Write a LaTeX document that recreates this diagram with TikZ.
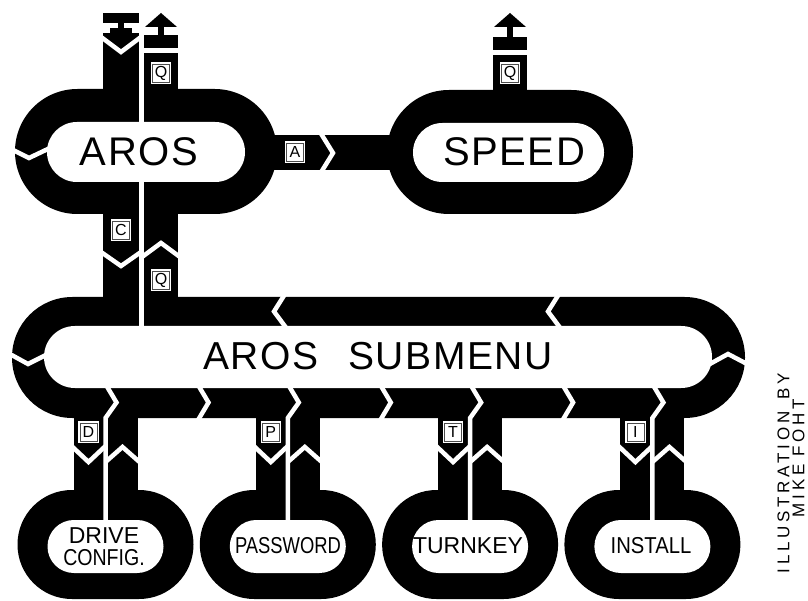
\documentclass[tikz,border=0pt]{standalone}
\usepackage{fontspec}
\usepackage{graphicx}
\setmainfont{Liberation Sans}
\newfontfamily\lblfont[LetterSpace=4]{Liberation Sans}
\newfontfamily\creditfont[LetterSpace=22]{Liberation Sans}
\begin{document}
\begin{tikzpicture}[x=1pt,y=-1pt]
\tikzset{
 cut/.style={draw=white, line width=4.5pt, line join=miter, miter limit=10},
 lbox/.style={rectangle, fill=white, draw=black!70, line width=0.5pt, minimum width=17pt, minimum height=18pt, inner sep=0pt, font=\fontsize{16}{16}\selectfont, preaction={draw=white, line width=3.5pt}},
 big/.style={font=\lblfont\fontsize{40}{40}\selectfont, inner sep=0pt},
 item/.style={font=\fontsize{23}{22}\selectfont, inner sep=0pt, align=center},
 credit/.style={rotate=90, inner sep=0pt, font=\creditfont\fontsize{17}{17}\selectfont},
}
\useasboundingbox (0,0) rectangle (808,601);
\fill[white] (0,0) rectangle (808,601);
% ---------- black shapes ----------
% AROS loop
\fill[rounded corners=62.4pt] (15,89) rectangle (277,214);
% SPEED loop
\fill[rounded corners=61.9pt] (387,90) rectangle (633,214);
% A band
\fill (265,135) rectangle (395,170);
% SUBMENU loop
\fill[rounded corners=60.4pt] (12,297) rectangle (745,418);
% top-left column with terminal symbol
\fill (103,13) rectangle (139,23);
\fill (118,22) rectangle (124,30);
\fill (110,28) rectangle (132,34);
\fill (103,33) rectangle (139,300);
% top-right column with arrow
\fill (161,13) -- (177,27) -- (145,27) -- cycle;
\fill (158,26) rectangle (164,36);
\fill (144,35) rectangle (178,48);
\fill (144,53) rectangle (178,300);
% SPEED column with arrow
\fill (510,13) -- (526,27) -- (494,27) -- cycle;
\fill (507,26) rectangle (513,38);
\fill (493,37) rectangle (527,50);
\fill (493,55) rectangle (527,95);
% item loops and columns
\foreach \cx in {105.5,287.8,470.1,652.4}{
  \fill[rounded corners=54.4pt] ({\cx-88},490) rectangle ({\cx+88},599);
  \fill ({\cx-32},415) rectangle ({\cx+32},495);
}
% ---------- white insides ----------
\fill[white, rounded corners=29.9pt] (47,122) rectangle (245,182);
\fill[white, rounded corners=29.4pt] (413,123) rectangle (604,182);
\fill[white, rounded corners=30.9pt] (44,326) rectangle (712,388);
\foreach \cx in {105.5,287.8,470.1,652.4}{
  \fill[white, rounded corners=26.4pt] ({\cx-58},520) rectangle ({\cx+58},573);
}
% ---------- white cuts ----------
\draw[cut] (141.5,30) -- (141.5,327);
\draw[cut] (101,37) -- (121,52) -- (141,37);
\draw[cut] (9,148) -- (29,158) -- (50,148);
\draw[cut] (320,132) -- (333,153) -- (320,174);
\draw[cut] (101,252) -- (121,266) -- (141,252);
\draw[cut] (142,257) -- (161,243) -- (180,257);
\draw[cut] (8,353) -- (28,364) -- (48,354);
\draw[cut] (708,365) -- (728,354) -- (749,365);
\draw[cut] (285,294) -- (274,311.5) -- (287,329);
\draw[cut] (559,294) -- (548,311.5) -- (561,329);
\foreach \cx in {105.5,287.8,470.1,652.4}{
  \draw[cut] (\cx,384) -- ({\cx+11},402.5) -- (\cx,418) -- (\cx,522);
  \draw[cut] ({\cx-34},446) -- ({\cx-17},462) -- (\cx,446);
  \draw[cut] (\cx,462) -- ({\cx+17},447) -- ({\cx+34},462);
}
\foreach \cx in {105.5,287.8,470.1}{
  \draw[cut] ({\cx+92},384) -- ({\cx+103},402.5) -- ({\cx+92},421);
}
% ---------- key boxes ----------
\node[lbox] (qa) at (161,73) {Q};
\node[lbox] (qs) at (510,73) {Q};
\node[lbox] (ka) at (295,152) {A};
\node[lbox] (kc) at (121,230) {C};
\node[lbox] (kq) at (161,280) {Q};
\foreach \cx/\L in {105.5/D,287.8/P,470.1/T,652.4/I}{
  \node[lbox] (key\L) at ({\cx-17},432) {\L};
}
% ---------- texts ----------
\node[big] (aros) at (139,152) {AROS};
\node[big] (speed) at (514,152) {SPEED};
\node[inner sep=0pt, font=\lblfont\fontsize{39}{39}\selectfont] (sub) at (378,356) {AROS\hspace{30pt}SUBMENU};
\node[item] (drive) at (104,547) {DRIVE\\\scalebox{0.85}[1]{CONFIG.}};
\node[item] (pw) at (288,546) {\scalebox{0.8}[1]{PASSWORD}};
\node[item] (tk) at (468,546) {TURNKEY};
\node[item] (ins) at (651,546) {\scalebox{0.88}[1]{INSTALL}};
\node[credit] (illu) at (783.5,473) {ILLUSTRATION\hspace{12pt}BY};
\node[credit] (mike) at (798.5,458) {MIKE\hspace{8pt}FOHT};
\end{tikzpicture}
\end{document}
